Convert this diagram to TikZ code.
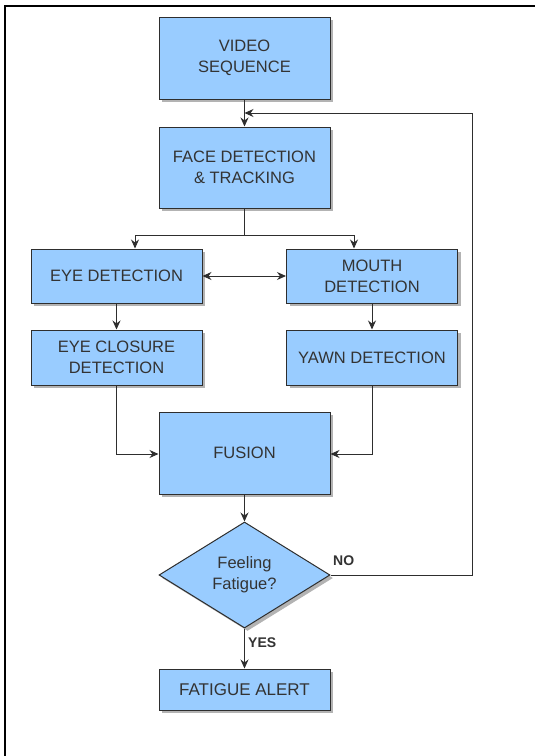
\documentclass[tikz,border=0pt]{standalone}
\usepackage{fontspec}
\setmainfont{Liberation Sans}
\usetikzlibrary{shapes.geometric,arrows.meta,shadows}
\definecolor{boxblue}{HTML}{99CCFF}
\definecolor{linegray}{HTML}{2E2E2E}
\tikzset{
  >={Stealth[length=9pt,width=8pt]},
  flow/.style={draw=linegray,line width=1pt,->},
  answer/.style={font=\bfseries\fontsize{14}{16}\selectfont,text=black!80,inner sep=0pt}
}
\begin{document}
\begin{tikzpicture}[x=1pt,y=-1pt]
  \useasboundingbox (0,0) rectangle (535,756);
  \draw[line width=2pt] (5,756) -- (5,6) -- (535,6);
  \begin{scope}[every node/.style={rectangle,draw=linegray,line width=1pt,fill=boxblue,
      text=black!80,align=center,minimum width=171pt,inner sep=0pt,
      font=\fontsize{16.5}{21}\selectfont,
      drop shadow={shadow xshift=3pt,shadow yshift=-3pt,fill=black!50,opacity=.6}}]
    \node[minimum height=82pt] (video) at (244.5,58) {VIDEO\\SEQUENCE};
    \node[minimum height=81pt] (face) at (244.5,167.5) {FACE DETECTION\\\& TRACKING};
    \node[minimum height=54pt] (eye) at (116.5,276) {EYE DETECTION};
    \node[minimum height=54pt] (mouth) at (372,276) {MOUTH\\DETECTION};
    \node[minimum height=55pt] (closure) at (116.5,357.5) {EYE CLOSURE\\DETECTION};
    \node[minimum height=55pt] (yawn) at (372,357.5) {YAWN DETECTION};
    \node[minimum height=82pt] (fusion) at (244.5,453) {FUSION};
    \node[diamond,minimum width=171pt,minimum height=106pt] (fatigue) at (244.5,575) {Feeling\\Fatigue?};
    \node[minimum height=41pt,font=\fontsize{17}{20}\selectfont] (alert) at (244.5,689.5) {FATIGUE ALERT};
  \end{scope}
  \coordinate (split) at (244.5,235);
  \coordinate (back) at (472,113);
  \begin{scope}[every edge/.style={flow}]
    \path (video) edge (face);
    \path (eye) edge[<->] (mouth);
    \path (eye) edge (closure);
    \path (mouth) edge (yawn);
    \path (fusion) edge (fatigue);
    \path (fatigue) edge (alert);
  \end{scope}
  \draw[draw=linegray,line width=1pt] (face) -- (split);
  \draw[flow] (split) -| ([xshift=18.5pt]eye.north);
  \draw[flow] (split) -| ([xshift=-18pt]mouth.north);
  \draw[flow] (closure) |- ([yshift=-1pt]fusion.west);
  \draw[flow] (yawn) |- ([yshift=-1pt]fusion.east);
  \draw[flow] (fatigue.east) -| (back) -- (back -| video.south);
  \node[answer,anchor=west] (no) at (333,561) {NO};
  \node[answer,anchor=west] (yes) at (248,643) {YES};
\end{tikzpicture}
\end{document}
